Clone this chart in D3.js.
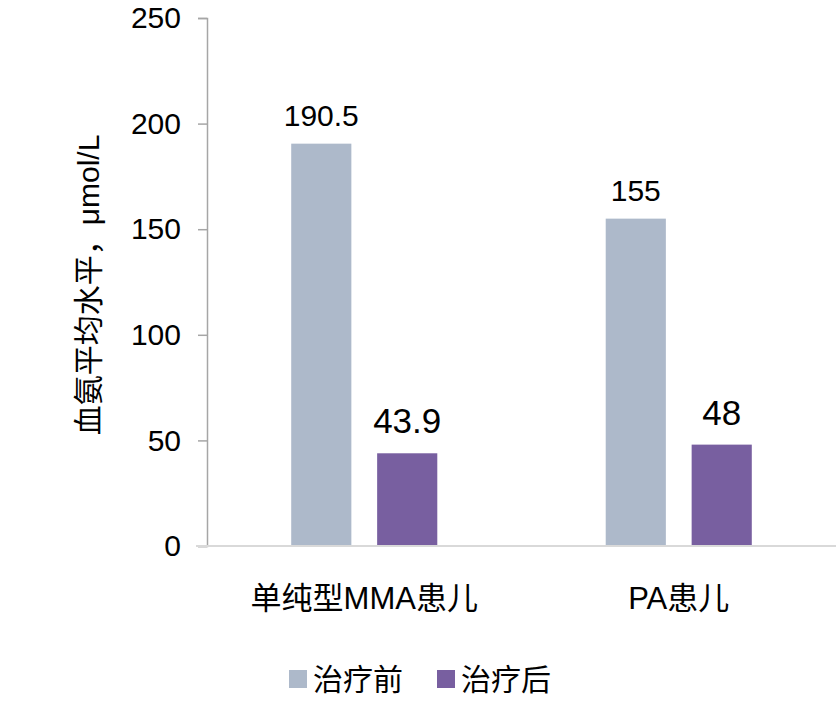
<!DOCTYPE html>
<html><head><meta charset="utf-8">
<script src="https://cdn.jsdelivr.net/npm/d3@7"></script>
<style>body{margin:0;background:#fff}text{font-family:"Liberation Sans","Noto Sans CJK SC",Arial,sans-serif;fill:#000}</style>
</head><body><svg id="c" width="837" height="720"></svg>
<script>
const categories = ["单纯型MMA患儿", "PA患儿"];
const seriesNames = ["治疗前", "治疗后"];
const before = [190.5, 155];
const after = [43.9, 48];
const beforeLabels = ["190.5", "155"];
const afterLabels = ["43.9", "48"];
const yTicks = [0, 50, 100, 150, 200, 250];
const colors = ["#ADB9CA", "#785FA0"];

const svg = d3.select("#c");
const x0 = d3.scaleBand().domain(categories).range([207, 836]);
const x1 = d3.scaleBand().domain(seriesNames).range([0, x0.bandwidth()]).paddingInner(0.3).paddingOuter(0.98);
const y = d3.scaleLinear().domain([0, 250]).range([546, 18]);

// y axis
const ya = svg.append("g").attr("transform","translate(207,0)")
  .call(d3.axisLeft(y).tickValues(yTicks).tickSize(9).tickPadding(17));
ya.select(".domain").attr("stroke","#A6A6A6").attr("stroke-width",1.5);
ya.selectAll(".tick line").attr("stroke","#A6A6A6").attr("stroke-width",1.5);
ya.selectAll(".tick text").attr("font-size",30).attr("fill","#000")
  .style("font-family","'Liberation Sans',Arial,sans-serif");

const data = categories.map((c,i)=>({cat:c, vals:[
  {s:seriesNames[0], v:before[i], lab:beforeLabels[i], fs:30, off:18},
  {s:seriesNames[1], v:after[i], lab:afterLabels[i], fs:35, off:20}]}));

const g = svg.selectAll(".grp").data(data).enter().append("g")
  .attr("transform", d=>`translate(${x0(d.cat)},0)`);
g.selectAll("rect").data(d=>d.vals).enter().append("rect")
  .attr("x", d=>x1(d.s)).attr("width", x1.bandwidth())
  .attr("y", d=>y(d.v)).attr("height", d=>y(0)-y(d.v))
  .attr("fill", (d,i)=>colors[i]);
g.selectAll("text.lab").data(d=>d.vals).enter().append("text").attr("class","lab")
  .attr("x", d=>x1(d.s)+x1.bandwidth()/2).attr("y", d=>y(d.v)-d.off)
  .attr("text-anchor","middle").attr("font-size", d=>d.fs).text(d=>d.lab);

// baseline
svg.append("line").attr("x1",196).attr("x2",836).attr("y1",y(0)).attr("y2",y(0))
  .attr("stroke","#D9D9D9").attr("stroke-width",2);

// category labels
svg.selectAll("text.cat").data(categories).enter().append("text").attr("class","cat")
  .attr("x", d=>x0(d)+x0.bandwidth()/2).attr("y", 609)
  .attr("text-anchor","middle").attr("font-size",31).text(d=>d);

// y title
svg.append("text").attr("transform","translate(99,285) rotate(-90)")
  .attr("text-anchor","middle").attr("font-size",30).text("血氨平均水平，μmol/L");

// legend
const lx = [289, 437];
const lg = svg.selectAll(".leg").data(seriesNames).enter().append("g")
  .attr("transform",(d,i)=>`translate(${lx[i]},0)`);
lg.append("rect").attr("x",0).attr("y",670).attr("width",18).attr("height",18).attr("fill",(d,i)=>colors[i]);
lg.append("text").attr("x",24).attr("y",690).attr("font-size",30).text(d=>d);
</script></body></html>
